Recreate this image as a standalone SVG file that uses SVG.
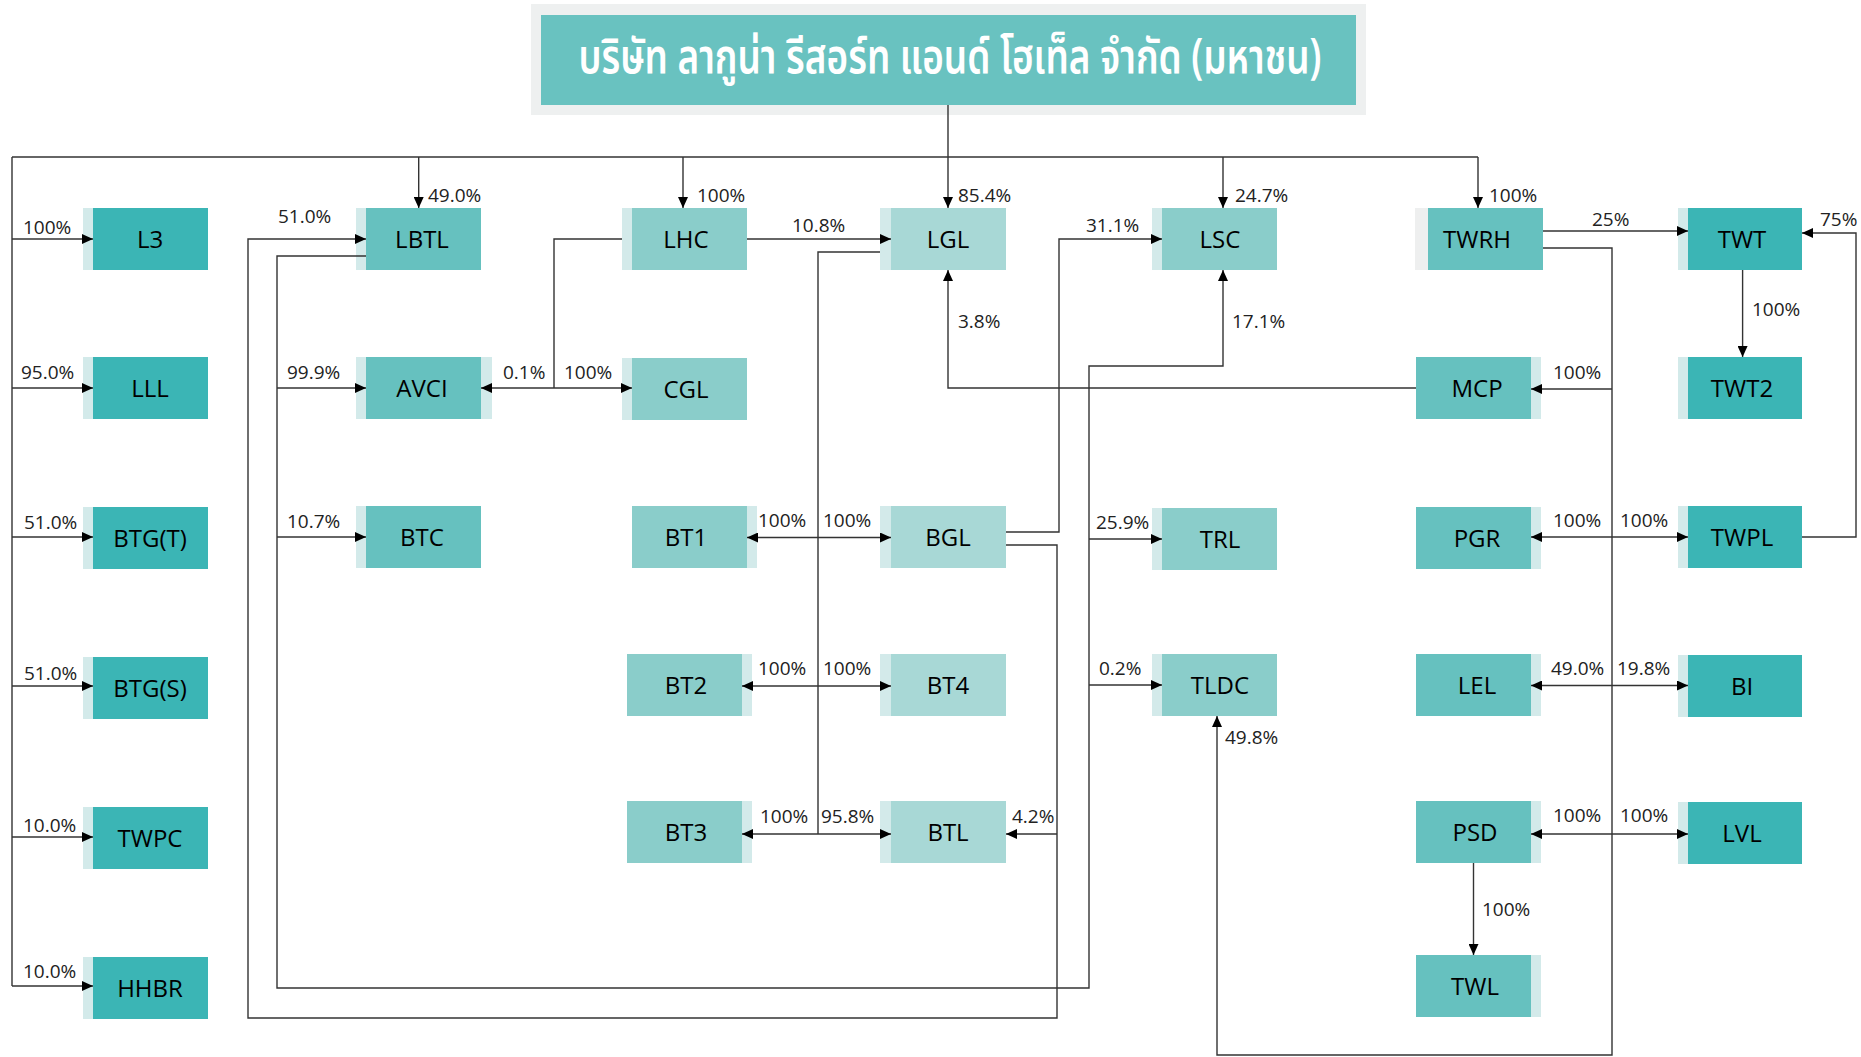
<svg xmlns="http://www.w3.org/2000/svg" width="1861" height="1057" viewBox="0 0 1861 1057">
<defs>
<marker id="ah" markerUnits="userSpaceOnUse" markerWidth="11" markerHeight="10" refX="11" refY="5" orient="auto-start-reverse">
<path d="M0,0 L11,5 L0,10 z" fill="#000"/>
</marker>
<style>
.c1{fill:#3bb5b5}.c2{fill:#66c1bf}.c3{fill:#8acdca}.c4{fill:#a8d8d6}.ls{fill:#d3eaea}.gs{fill:#eeefef}
.nl{font-family:"Open Sans","Noto Sans","DejaVu Sans",sans-serif;font-size:24px;fill:#000;text-anchor:middle}
.pl{font-family:"Open Sans","Noto Sans","DejaVu Sans",sans-serif;font-size:19px;fill:#222}
.conn path{fill:none;stroke:#333;stroke-width:1.4}
.a{marker-end:url(#ah)}
.b{marker-start:url(#ah);marker-end:url(#ah)}
</style>
</defs>
<rect width="1861" height="1057" fill="#fff"/>

<g id="title">
<rect x="531" y="4" width="835" height="111" fill="#eef0f0"/>
<rect x="541" y="15" width="815" height="90" fill="#69c2c0"/>
<text x="950" y="73" font-family="'Noto Sans Thai','Noto Sans Thai UI','Noto Sans','Noto Sans CJK SC',sans-serif" font-size="48" font-weight="600" fill="#fff" text-anchor="middle" textLength="743" lengthAdjust="spacingAndGlyphs">บริษัท ลากูน่า รีสอร์ท แอนด์ โฮเท็ล จำกัด (มหาชน)</text>
</g>

<g id="L3"><rect class="ls" x="83" y="208" width="10" height="62"/><rect class="c1" x="93" y="208" width="115" height="62"/><text class="nl" x="150" y="247.5">L3</text></g>
<g id="LLL"><rect class="ls" x="83" y="357" width="10" height="62"/><rect class="c1" x="93" y="357" width="115" height="62"/><text class="nl" x="150" y="396.5">LLL</text></g>
<g id="BTGT"><rect class="ls" x="83" y="507" width="10" height="62"/><rect class="c1" x="93" y="507" width="115" height="62"/><text class="nl" x="150" y="546.5">BTG(T)</text></g>
<g id="BTGS"><rect class="ls" x="83" y="657" width="10" height="62"/><rect class="c1" x="93" y="657" width="115" height="62"/><text class="nl" x="150" y="696.5">BTG(S)</text></g>
<g id="TWPC"><rect class="ls" x="83" y="807" width="10" height="62"/><rect class="c1" x="93" y="807" width="115" height="62"/><text class="nl" x="150" y="846.5">TWPC</text></g>
<g id="HHBR"><rect class="ls" x="83" y="957" width="10" height="62"/><rect class="c1" x="93" y="957" width="115" height="62"/><text class="nl" x="150" y="996.5">HHBR</text></g>

<g id="LBTL"><rect class="ls" x="356" y="208" width="10" height="62"/><rect class="c2" x="366" y="208" width="115" height="62"/><text class="nl" x="422" y="247.5">LBTL</text></g>
<g id="AVCI"><rect class="ls" x="356" y="357" width="136" height="62"/><rect class="c2" x="366" y="357" width="115" height="62"/><text class="nl" x="422" y="396.5">AVCI</text></g>
<g id="BTC"><rect class="ls" x="356" y="506" width="10" height="62"/><rect class="c2" x="366" y="506" width="115" height="62"/><text class="nl" x="422" y="545.5">BTC</text></g>

<g id="LHC"><rect class="ls" x="622" y="208" width="10" height="62"/><rect class="c3" x="632" y="208" width="115" height="62"/><text class="nl" x="686" y="247.5">LHC</text></g>
<g id="CGL"><rect class="ls" x="622" y="358" width="10" height="62"/><rect class="c3" x="632" y="358" width="115" height="62"/><text class="nl" x="686" y="397.5">CGL</text></g>
<g id="BT1"><rect class="ls" x="747" y="506" width="10" height="62"/><rect class="c3" x="632" y="506" width="115" height="62"/><text class="nl" x="686" y="545.5">BT1</text></g>
<g id="BT2"><rect class="ls" x="742" y="654" width="10" height="62"/><rect class="c3" x="627" y="654" width="115" height="62"/><text class="nl" x="686" y="693.5">BT2</text></g>
<g id="BT3"><rect class="ls" x="742" y="801" width="10" height="62"/><rect class="c3" x="627" y="801" width="115" height="62"/><text class="nl" x="686" y="841">BT3</text></g>

<g id="LGL"><rect class="ls" x="880" y="208" width="11" height="62"/><rect class="c4" x="891" y="208" width="115" height="62"/><text class="nl" x="948" y="247.5">LGL</text></g>
<g id="BGL"><rect class="ls" x="880" y="506" width="11" height="62"/><rect class="c4" x="891" y="506" width="115" height="62"/><text class="nl" x="948" y="545.5">BGL</text></g>
<g id="BT4"><rect class="ls" x="880" y="654" width="11" height="62"/><rect class="c4" x="891" y="654" width="115" height="62"/><text class="nl" x="948" y="693.5">BT4</text></g>
<g id="BTL"><rect class="ls" x="880" y="801" width="11" height="62"/><rect class="c4" x="891" y="801" width="115" height="62"/><text class="nl" x="948" y="841">BTL</text></g>

<g id="LSC"><rect class="ls" x="1152" y="208" width="10" height="62"/><rect class="c3" x="1162" y="208" width="115" height="62"/><text class="nl" x="1220" y="247.5">LSC</text></g>
<g id="TRL"><rect class="ls" x="1152" y="508" width="10" height="62"/><rect class="c3" x="1162" y="508" width="115" height="62"/><text class="nl" x="1220" y="547.5">TRL</text></g>
<g id="TLDC"><rect class="ls" x="1152" y="654" width="10" height="62"/><rect class="c3" x="1162" y="654" width="115" height="62"/><text class="nl" x="1220" y="693.5">TLDC</text></g>

<g id="TWRH"><rect class="gs" x="1415" y="208" width="13" height="62"/><rect class="c2" x="1428" y="208" width="115" height="62"/><text class="nl" x="1477" y="247.5">TWRH</text></g>
<g id="MCP"><rect class="ls" x="1531" y="357" width="10" height="62"/><rect class="c2" x="1416" y="357" width="115" height="62"/><text class="nl" x="1477" y="396.5">MCP</text></g>
<g id="PGR"><rect class="ls" x="1531" y="507" width="10" height="62"/><rect class="c2" x="1416" y="507" width="115" height="62"/><text class="nl" x="1477" y="546.5">PGR</text></g>
<g id="LEL"><rect class="ls" x="1531" y="654" width="10" height="62"/><rect class="c2" x="1416" y="654" width="115" height="62"/><text class="nl" x="1477" y="693.5">LEL</text></g>
<g id="PSD"><rect class="ls" x="1531" y="801" width="10" height="62"/><rect class="c2" x="1416" y="801" width="115" height="62"/><text class="nl" x="1475" y="841">PSD</text></g>
<g id="TWL"><rect class="ls" x="1531" y="955" width="10" height="62"/><rect class="c2" x="1416" y="955" width="115" height="62"/><text class="nl" x="1475" y="994.5">TWL</text></g>

<g id="TWT"><rect class="ls" x="1678" y="208" width="10" height="62"/><rect class="c1" x="1688" y="208" width="114" height="62"/><text class="nl" x="1742" y="247.5">TWT</text></g>
<g id="TWT2"><rect class="ls" x="1678" y="357" width="10" height="62"/><rect class="c1" x="1688" y="357" width="114" height="62"/><text class="nl" x="1742" y="396.5">TWT2</text></g>
<g id="TWPL"><rect class="ls" x="1678" y="506" width="10" height="62"/><rect class="c1" x="1688" y="506" width="114" height="62"/><text class="nl" x="1742" y="545.5">TWPL</text></g>
<g id="BI"><rect class="ls" x="1678" y="655" width="10" height="62"/><rect class="c1" x="1688" y="655" width="114" height="62"/><text class="nl" x="1742" y="694.5">BI</text></g>
<g id="LVL"><rect class="ls" x="1678" y="802" width="10" height="62"/><rect class="c1" x="1688" y="802" width="114" height="62"/><text class="nl" x="1742" y="842">LVL</text></g>

<g id="connectors" class="conn">
<path d="M948,105 V208" class="a"/>
<path d="M12,157 H1478"/>
<path d="M418.7,157 V208" class="a"/>
<path d="M683,157 V208" class="a"/>
<path d="M1223,157 V208" class="a"/>
<path d="M1478,157 V208" class="a"/>
<path d="M12,157 V986"/>
<path d="M12,239 H93" class="a"/>
<path d="M12,388 H93" class="a"/>
<path d="M12,537 H93" class="a"/>
<path d="M12,686 H93" class="a"/>
<path d="M12,837 H93" class="a"/>
<path d="M12,986 H93" class="a"/>
<path d="M366,256 H277 V988 H1089 V366 H1223 V270" class="a"/>
<path d="M277,388 H366" class="a"/>
<path d="M277,537 H366" class="a"/>
<path d="M1089,539 H1162" class="a"/>
<path d="M1089,685 H1162" class="a"/>
<path d="M622,239 H554 V388"/>
<path d="M481,388 H632" class="b"/>
<path d="M747,239 H891" class="a"/>
<path d="M880,252 H818 V834"/>
<path d="M747,537.5 H891" class="b"/>
<path d="M742,686 H891" class="b"/>
<path d="M742,834 H891" class="b"/>
<path d="M1006,532 H1059 V239 H1162" class="a"/>
<path d="M1006,545 H1057 V1018 H248 V239 H366" class="a"/>
<path d="M1057,834 H1006" class="a"/>
<path d="M1416,388 H948 V270" class="a"/>
<path d="M1543,231 H1688" class="a"/>
<path d="M1543,248 H1612 V1055 H1217 V716" class="a"/>
<path d="M1612,389 H1531" class="a"/>
<path d="M1531,537 H1688" class="b"/>
<path d="M1531,685.5 H1688" class="b"/>
<path d="M1531,834 H1688" class="b"/>
<path d="M1802,537 H1856 V233 H1802" class="a"/>
<path d="M1742.6,270 V357" class="a"/>
<path d="M1473.5,863 V955" class="a"/>
</g>

<g id="labels">
<text class="pl" x="428" y="202">49.0%</text>
<text class="pl" x="697" y="202">100%</text>
<text class="pl" x="958" y="202">85.4%</text>
<text class="pl" x="1235" y="202">24.7%</text>
<text class="pl" x="1489" y="202">100%</text>
<text class="pl" x="278" y="223">51.0%</text>
<text class="pl" x="792" y="232">10.8%</text>
<text class="pl" x="1086" y="232">31.1%</text>
<text class="pl" x="1592" y="226">25%</text>
<text class="pl" x="1820" y="226">75%</text>
<text class="pl" x="23" y="234">100%</text>
<text class="pl" x="21" y="379">95.0%</text>
<text class="pl" x="958" y="328">3.8%</text>
<text class="pl" x="1232" y="328">17.1%</text>
<text class="pl" x="1752" y="316">100%</text>
<text class="pl" x="287" y="379">99.9%</text>
<text class="pl" x="503" y="379">0.1%</text>
<text class="pl" x="564" y="379">100%</text>
<text class="pl" x="1553" y="379">100%</text>
<text class="pl" x="24" y="529">51.0%</text>
<text class="pl" x="287" y="528">10.7%</text>
<text class="pl" x="758" y="527">100%</text>
<text class="pl" x="823" y="527">100%</text>
<text class="pl" x="1096" y="529">25.9%</text>
<text class="pl" x="1553" y="527">100%</text>
<text class="pl" x="1620" y="527">100%</text>
<text class="pl" x="24" y="680">51.0%</text>
<text class="pl" x="758" y="675">100%</text>
<text class="pl" x="823" y="675">100%</text>
<text class="pl" x="1099" y="675">0.2%</text>
<text class="pl" x="1551" y="675">49.0%</text>
<text class="pl" x="1617" y="675">19.8%</text>
<text class="pl" x="1225" y="744">49.8%</text>
<text class="pl" x="760" y="823">100%</text>
<text class="pl" x="821" y="823">95.8%</text>
<text class="pl" x="1012" y="823">4.2%</text>
<text class="pl" x="1553" y="822">100%</text>
<text class="pl" x="1620" y="822">100%</text>
<text class="pl" x="23" y="832">10.0%</text>
<text class="pl" x="1482" y="916">100%</text>
<text class="pl" x="23" y="978">10.0%</text>
</g>
</svg>
